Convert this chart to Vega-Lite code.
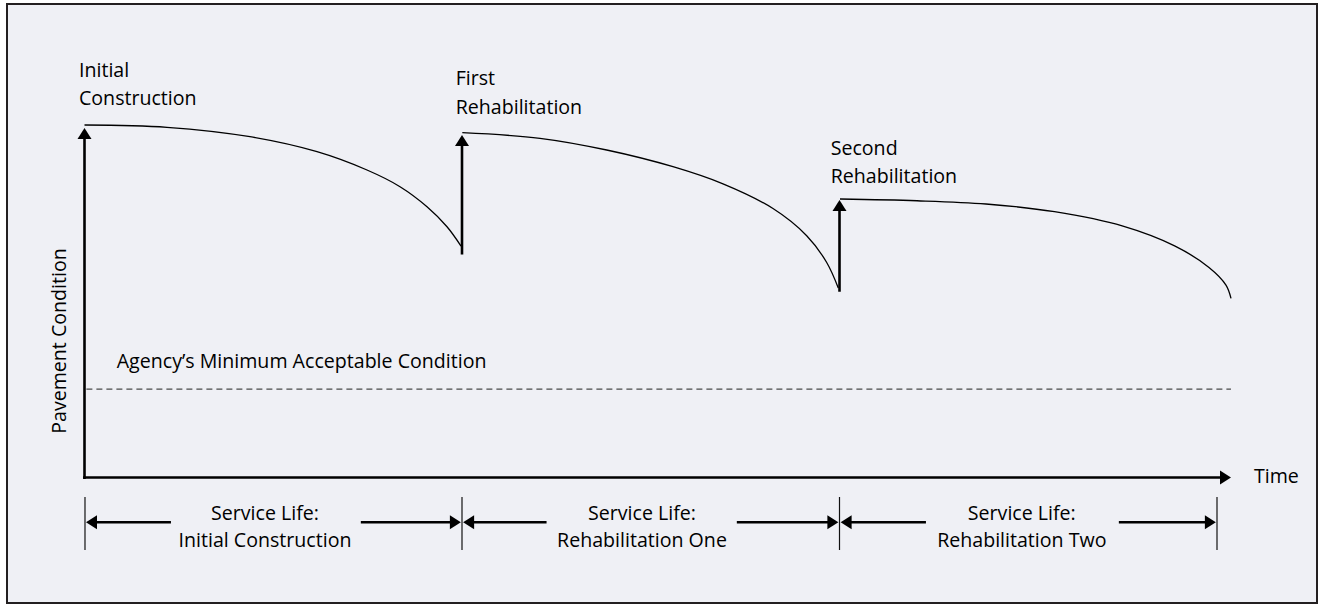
{
  "$schema": "https://vega.github.io/schema/vega-lite/v6.json",
  "width": 1318,
  "height": 604,
  "autosize": {"type": "fit", "contains": "padding"},
  "padding": {"left": 7, "top": 4, "right": 1, "bottom": 1},
  "background": "#ffffff",
  "config": {
    "view": {"fill": "#eff0f5", "stroke": "#231f20", "strokeWidth": 2},
    "text": {"font": "Open Sans"}
  },
  "datasets": {
    "curves": [
      {"seg": "Initial", "t": 0.0, "c": 100.0},
      {"seg": "Initial", "t": 2.185, "c": 99.35},
      {"seg": "Initial", "t": 4.384, "c": 96.68},
      {"seg": "Initial", "t": 6.159, "c": 92.43},
      {"seg": "Initial", "t": 7.483, "c": 87.23},
      {"seg": "Initial", "t": 8.358, "c": 82.5},
      {"seg": "Initial", "t": 9.073, "c": 76.82},
      {"seg": "Initial", "t": 9.603, "c": 71.15},
      {"seg": "Initial", "t": 9.974, "c": 65.67},
      {"seg": "Rehab1", "t": 10.008, "c": 97.82},
      {"seg": "Rehab1", "t": 12.066, "c": 96.23},
      {"seg": "Rehab1", "t": 13.833, "c": 92.91},
      {"seg": "Rehab1", "t": 15.589, "c": 88.17},
      {"seg": "Rehab1", "t": 16.914, "c": 83.3},
      {"seg": "Rehab1", "t": 18.238, "c": 76.3},
      {"seg": "Rehab1", "t": 19.131, "c": 68.6},
      {"seg": "Rehab1", "t": 19.661, "c": 61.0},
      {"seg": "Rehab1", "t": 19.968, "c": 53.76},
      {"seg": "Rehab2", "t": 20.013, "c": 79.01},
      {"seg": "Rehab2", "t": 22.053, "c": 78.52},
      {"seg": "Rehab2", "t": 23.881, "c": 77.59},
      {"seg": "Rehab2", "t": 25.695, "c": 75.4},
      {"seg": "Rehab2", "t": 27.51, "c": 71.3},
      {"seg": "Rehab2", "t": 28.877, "c": 65.7},
      {"seg": "Rehab2", "t": 29.788, "c": 59.6},
      {"seg": "Rehab2", "t": 30.238, "c": 54.6},
      {"seg": "Rehab2", "t": 30.371, "c": 50.84}
    ],
    "segments": [
      {"kind": "thick", "t": 0.0, "c": -0.4, "t2": 0.0, "c2": 96.5},
      {"kind": "thick", "t": -0.04, "c": 0.0, "t2": 30.1, "c2": 0.0},
      {"kind": "thick", "t": 10.0, "c": 63.26, "t2": 10.0, "c2": 94.3},
      {"kind": "thick", "t": 20.0, "c": 52.7, "t2": 20.0, "c2": 75.7},
      {"kind": "thick", "t": 0.2, "c": -12.71, "t2": 2.29, "c2": -12.71},
      {"kind": "thick", "t": 7.32, "c": -12.71, "t2": 9.75, "c2": -12.71},
      {"kind": "thick", "t": 10.2, "c": -12.71, "t2": 12.24, "c2": -12.71},
      {"kind": "thick", "t": 17.28, "c": -12.71, "t2": 19.75, "c2": -12.71},
      {"kind": "thick", "t": 20.2, "c": -12.71, "t2": 22.29, "c2": -12.71},
      {"kind": "thick", "t": 27.4, "c": -12.71, "t2": 29.75, "c2": -12.71},
      {"kind": "tick", "t": 0.013, "c": -5.53, "t2": 0.013, "c2": -20.57},
      {"kind": "tick", "t": 10.0, "c": -5.53, "t2": 10.0, "c2": -20.57},
      {"kind": "tick", "t": 20.0, "c": -5.53, "t2": 20.0, "c2": -20.57},
      {"kind": "tick", "t": 30.0, "c": -5.53, "t2": 30.0, "c2": -20.57},
      {"kind": "min", "t": 0.05, "c": 25.1, "t2": 30.37, "c2": 25.1}
    ],
    "heads": [
      {"dir": "up", "t": 0.0, "c": 99.15},
      {"dir": "up", "t": 10.0, "c": 97.16},
      {"dir": "up", "t": 20.0, "c": 78.72},
      {"dir": "right", "t": 30.371, "c": 0.0},
      {"dir": "right", "t": 9.97, "c": -12.71},
      {"dir": "right", "t": 19.97, "c": -12.71},
      {"dir": "right", "t": 29.97, "c": -12.71},
      {"dir": "left", "t": 0.04, "c": -12.71},
      {"dir": "left", "t": 10.03, "c": -12.71},
      {"dir": "left", "t": 20.03, "c": -12.71}
    ],
    "labels": [
      {"role": "top", "label": "Initial\nConstruction", "t": -0.146, "c": 113.7},
      {"role": "top", "label": "First\nRehabilitation", "t": 9.833, "c": 111.35},
      {"role": "top", "label": "Second\nRehabilitation", "t": 19.767, "c": 91.63},
      {"role": "top", "label": "Agency’s Minimum Acceptable Condition", "t": 0.853, "c": 31.06},
      {"role": "top", "label": "Time", "t": 30.98, "c": -1.56},
      {"role": "bottom", "label": "Service Life:\nInitial Construction", "t": 4.781, "c": -12.06},
      {"role": "bottom", "label": "Service Life:\nRehabilitation One", "t": 14.768, "c": -12.06},
      {"role": "bottom", "label": "Service Life:\nRehabilitation Two", "t": 24.829, "c": -12.06},
      {"role": "yaxis", "label": "Pavement Condition", "t": -0.477, "c": 38.72}
    ]
  },
  "encoding": {
    "x": {"field": "t", "type": "quantitative", "scale": {"domain": [-2.053, 32.649], "nice": false, "zero": false}, "axis": null},
    "y": {"field": "c", "type": "quantitative", "scale": {"domain": [-35.6, 134.33], "nice": false, "zero": false}, "axis": null}
  },
  "layer": [
    {
      "data": {"name": "segments"},
      "transform": [{"filter": "datum.kind === 'min'"}],
      "mark": {"type": "rule", "strokeWidth": 1.2, "color": "#4a4a4a", "strokeDash": [6, 4]},
      "encoding": {"x2": {"field": "t2"}, "y2": {"field": "c2"}}
    },
    {
      "data": {"name": "segments"},
      "transform": [{"filter": "datum.kind === 'tick'"}],
      "mark": {"type": "rule", "strokeWidth": 1.2, "color": "#111111"},
      "encoding": {"x2": {"field": "t2"}, "y2": {"field": "c2"}}
    },
    {
      "data": {"name": "segments"},
      "transform": [{"filter": "datum.kind === 'thick'"}],
      "mark": {"type": "rule", "strokeWidth": 2.6, "color": "#000000"},
      "encoding": {"x2": {"field": "t2"}, "y2": {"field": "c2"}}
    },
    {
      "data": {"name": "curves"},
      "mark": {"type": "line", "interpolate": "catmull-rom", "strokeWidth": 1.3, "color": "#000000"},
      "encoding": {"detail": {"field": "seg", "type": "nominal"}}
    },
    {
      "data": {"name": "heads"},
      "mark": {"type": "point", "filled": true, "opacity": 1, "size": 196, "color": "#000000", "strokeWidth": 0},
      "encoding": {
        "shape": {
          "field": "dir",
          "type": "nominal",
          "scale": {"domain": ["up", "right", "left"], "range": ["M0,0L1,1.57L-1,1.57Z", "M0,0L-1.57,-1L-1.57,1Z", "M0,0L1.57,-1L1.57,1Z"]},
          "legend": null
        }
      }
    },
    {
      "data": {"name": "labels"},
      "transform": [{"filter": "datum.role === 'top'"}],
      "mark": {"type": "text", "align": "left", "baseline": "alphabetic", "fontSize": 19.6, "lineHeight": 28.5, "lineBreak": "\n", "color": "#000000"},
      "encoding": {"text": {"field": "label", "type": "nominal"}}
    },
    {
      "data": {"name": "labels"},
      "transform": [{"filter": "datum.role === 'bottom'"}],
      "mark": {"type": "text", "align": "center", "baseline": "alphabetic", "fontSize": 19.6, "lineHeight": 27.3, "lineBreak": "\n", "color": "#000000"},
      "encoding": {"text": {"field": "label", "type": "nominal"}}
    },
    {
      "data": {"name": "labels"},
      "transform": [{"filter": "datum.role === 'yaxis'"}],
      "mark": {"type": "text", "align": "center", "baseline": "alphabetic", "angle": 270, "fontSize": 19.6, "color": "#000000"},
      "encoding": {"text": {"field": "label", "type": "nominal"}}
    }
  ]
}
